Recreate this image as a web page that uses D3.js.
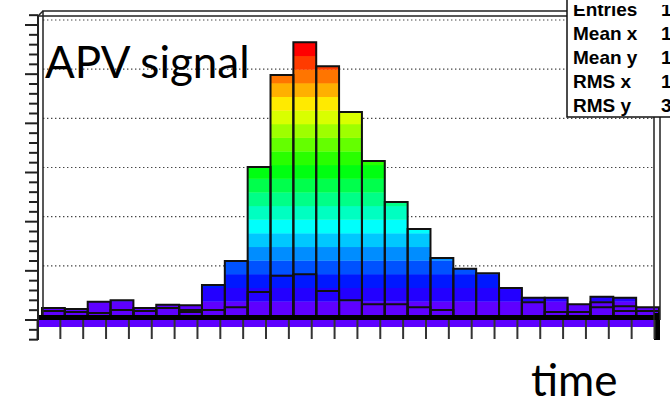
<!DOCTYPE html>
<html lang="en">
<head>
<meta charset="utf-8">
<title>APV signal</title>
<script src="https://d3js.org/d3.v7.min.js"></script>
<style>
  body { margin: 0; background: #fff; }
  svg { display: block; }
</style>
</head>
<body>
<div id="chart"></div>
<script>
const bins = d3.range(1, 28);
const outerCounts = [14, 12, 27, 30, 14, 21, 20, 61, 110, 301, 488, 555, 506, 413, 313, 230, 175, 116, 94, 85, 55, 35, 35, 22, 37, 35, 16];
const innerCounts = [8, 6, 4, 10, 8, 14, 10, 10, 16, 47, 80, 83, 49, 30, 22, 22, 16, 10, 0, 0, 0, 26, 6, 6, 26, 18, 8];
const thirdCounts = [0, 0, 0, 0, 0, 0, 6, 0, 0, 0, 0, 0, 0, 0, 0, 0, 0, 0, 0, 0, 0, 0, 0, 0, 16, 8, 0];
const yTicks = [0, 100, 200, 300, 400, 500, 600];
const statLabels = ['Entries', 'Mean x', 'Mean y', 'RMS x', 'RMS y'];
const statValues = ['12544', '12.87', '143.2', '14.53', '38.46'];

const width = 670, height = 404;
const nLevels = 20;

const svg = d3.select('#chart')
  .append('svg')
  .attr('width', width)
  .attr('height', height)
  .style('background-color', 'white');

const x = d3.scaleLinear().domain([0, bins.length]).range([42, 659]);
const y = d3.scaleLinear().domain([0, 600]).range([315, 20]);
const dx = -4.5, dy = 5;

const step = d3.max(outerCounts) / nLevels;
const color = k => d3.hsl(262 * (1 - k / (nLevels - 1)), 1, 0.5).formatHex();

// grid on the back plane
svg.append('g')
  .selectAll('line')
  .data(yTicks.slice(1))
  .join('line')
  .attr('x1', 43).attr('x2', 654)
  .attr('y1', d => y(d)).attr('y2', d => y(d))
  .attr('stroke', '#444')
  .attr('stroke-width', 1.2)
  .attr('stroke-dasharray', '1.4,2.6');

// colour bands of each bar
const bands = [];
outerCounts.forEach((v, i) => {
  for (let k = 0; k < nLevels && k * step < v; k++) {
    bands.push({ i, k, lo: k * step, hi: Math.min((k + 1) * step, v) });
  }
});

svg.append('g')
  .selectAll('rect')
  .data(bands)
  .join('rect')
  .attr('x', d => x(d.i))
  .attr('width', d => x(d.i + 1) - x(d.i) + 0.5)
  .attr('y', d => y(d.hi))
  .attr('height', d => y(d.lo) - y(d.hi) + 0.3)
  .attr('fill', d => color(d.k));

const barPath = (v, i) => `M${x(i)},${y(0)}V${y(v)}H${x(i + 1)}V${y(0)}`;

svg.append('g')
  .selectAll('path')
  .data(outerCounts)
  .join('path')
  .attr('d', (v, i) => barPath(v, i))
  .attr('fill', 'none')
  .attr('stroke', '#111')
  .attr('stroke-width', 2);

[innerCounts, thirdCounts].forEach(series => {
  svg.append('g')
    .selectAll('path')
    .data(series.map((v, i) => ({ v, i })).filter(d => d.v > 0))
    .join('path')
    .attr('d', d => barPath(d.v, d.i))
    .attr('fill', 'none')
    .attr('stroke', '#111')
    .attr('stroke-width', 2);
});

// base of the lego box
svg.append('rect')
  .attr('x', 38).attr('y', 315)
  .attr('width', 622).attr('height', 5)
  .attr('fill', '#000');

svg.append('rect')
  .attr('x', 38).attr('y', 320)
  .attr('width', 617).attr('height', 7)
  .attr('fill', color(0));

svg.append('rect')
  .attr('x', 654).attr('y', 313)
  .attr('width', 6).attr('height', 27)
  .attr('fill', '#000');

// x ticks on the front face
svg.append('g')
  .selectAll('line')
  .data(d3.range(0, bins.length + 1))
  .join('line')
  .attr('x1', d => x(d) + dx).attr('x2', d => x(d) + dx)
  .attr('y1', 320).attr('y2', 339)
  .attr('stroke', '#333')
  .attr('stroke-width', 2);

// y axis on the front face
const minorTicks = d3.range(-40, 621, 20).filter(v => v % 100 !== 0);
svg.append('line')
  .attr('x1', 38).attr('x2', 38)
  .attr('y1', 16).attr('y2', 340)
  .attr('stroke', '#222')
  .attr('stroke-width', 2);

svg.append('g')
  .selectAll('line')
  .data(yTicks.map(v => ({ v, len: 13 })).concat(minorTicks.map(v => ({ v, len: 9 }))))
  .join('line')
  .filter(d => y(d.v) + dy >= 15)
  .attr('x1', d => 38 - d.len).attr('x2', 38)
  .attr('y1', d => y(d.v) + dy).attr('y2', d => y(d.v) + dy)
  .attr('stroke', '#222')
  .attr('stroke-width', 2);

// frame
const frame = svg.append('g')
  .attr('fill', 'none')
  .attr('stroke', '#222')
  .attr('stroke-width', 1.5);
frame.append('path').attr('d', 'M43,315V11H660V320');
frame.append('path').attr('d', 'M38,16H654V320');
frame.append('path').attr('d', 'M38,16L43,11M654,16L660,11');

svg.append('text')
  .attr('x', 45).attr('y', 78)
  .attr('font-family', 'Lato, sans-serif')
  .attr('font-size', 44)
  .attr('fill', '#000')
  .text('APV signal');

svg.append('text')
  .attr('x', 531).attr('y', 396)
  .attr('font-family', 'Lato, sans-serif')
  .attr('font-size', 44)
  .attr('fill', '#000')
  .text('time');

// stats box
const stats = svg.append('g');
stats.append('rect')
  .attr('x', 567).attr('y', -10)
  .attr('width', 120).attr('height', 127)
  .attr('fill', 'white')
  .attr('stroke', '#111')
  .attr('stroke-width', 1.5);

stats.selectAll('text.label')
  .data(statLabels)
  .join('text')
  .attr('class', 'label')
  .attr('x', 573)
  .attr('y', (d, i) => 16 + i * 24)
  .attr('font-family', 'Liberation Sans, Arial, sans-serif')
  .attr('font-weight', 'bold')
  .attr('font-size', 19)
  .text(d => d);

stats.selectAll('text.value')
  .data(statValues)
  .join('text')
  .attr('class', 'value')
  .attr('x', 661)
  .attr('y', (d, i) => 16 + i * 24)
  .attr('font-family', 'Liberation Sans, Arial, sans-serif')
  .attr('font-weight', 'bold')
  .attr('font-size', 19)
  .text(d => d);

// top of the pasted picture is cropped
stats.append('rect')
  .attr('x', 568).attr('y', 0)
  .attr('width', 102).attr('height', 5)
  .attr('fill', 'white');
</script>
</body>
</html>
